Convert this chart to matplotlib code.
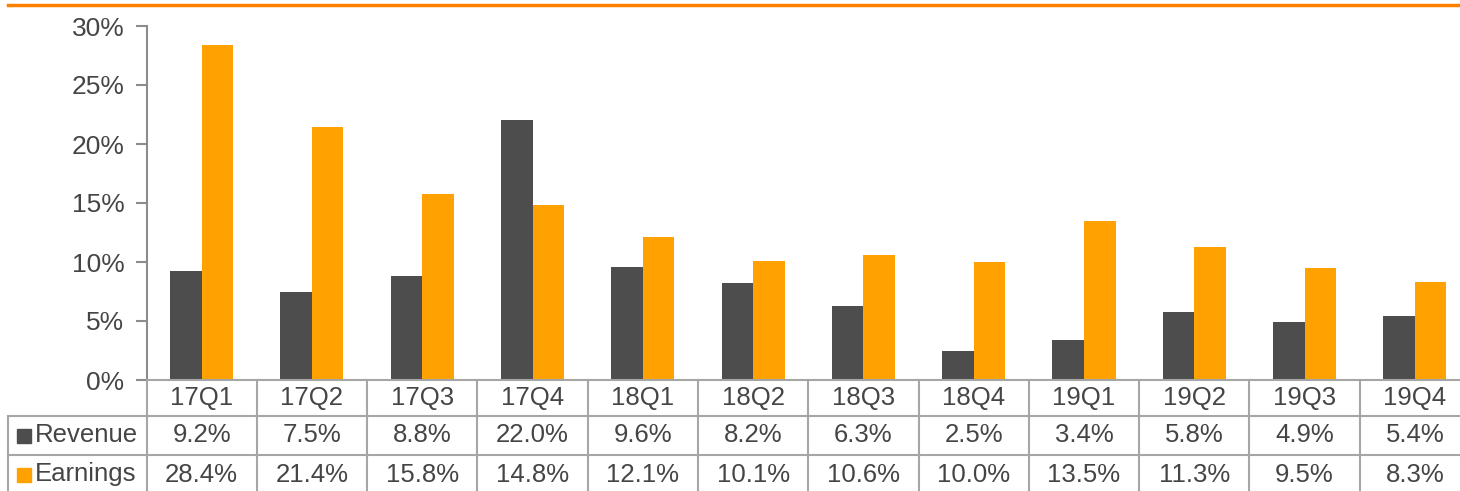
"""Quarterly revenue and earnings growth, bars with a data table underneath."""
import matplotlib

matplotlib.use("Agg")
import matplotlib.pyplot as plt  # noqa: E402
from matplotlib.lines import Line2D  # noqa: E402
from matplotlib.patches import Rectangle  # noqa: E402
from matplotlib.ticker import FuncFormatter  # noqa: E402
from matplotlib.transforms import blended_transform_factory  # noqa: E402

quarters = ["17Q1", "17Q2", "17Q3", "17Q4", "18Q1", "18Q2",
            "18Q3", "18Q4", "19Q1", "19Q2", "19Q3", "19Q4"]
revenue = [9.2, 7.5, 8.8, 22.0, 9.6, 8.2, 6.3, 2.5, 3.4, 5.8, 4.9, 5.4]
earnings = [28.4, 21.4, 15.8, 14.8, 12.1, 10.1, 10.6, 10.0, 13.5, 11.3, 9.5, 8.3]
series_names = ["Revenue", "Earnings"]

DARK = "#4d4d4d"
ORANGE = "#ffa100"
GRID = "#a6a6a6"
TEXT = "#454545"
FS = 18.5

plt.rcParams["font.family"] = ["Liberation Sans", "DejaVu Sans"]

W, H = 1460, 491
fig = plt.figure(figsize=(W / 100, H / 100), dpi=100)


def fy(px):
    # pixel row from top -> figure fraction
    return 1 - px / H


ax_left, ax_right = 146.5, 1470
ax_top, ax_bot = 26, 380
ax = fig.add_axes([ax_left / W, fy(ax_bot), (ax_right - ax_left) / W, (ax_bot - ax_top) / H])

x = list(range(len(quarters)))
bw = 0.286
ax.bar([i - bw / 2 for i in x], revenue, width=bw, color=DARK, zorder=2)
ax.bar([i + bw / 2 for i in x], earnings, width=bw, color=ORANGE, zorder=2)

ax.set_xlim(-0.5, len(quarters) - 0.5)
ax.set_ylim(0, 30)
ax.set_yticks(range(0, 31, 5))
ax.yaxis.set_major_formatter(FuncFormatter(lambda v, _: f"{v:.0f}%"))
ax.tick_params(axis="y", length=8, width=1.5, color="#8c8c8c",
               labelsize=19, labelcolor=TEXT, pad=8)
ax.tick_params(axis="x", bottom=False, labelbottom=False)
for s in ["top", "right"]:
    ax.spines[s].set_visible(False)
ax.spines["left"].set_color("#8c8c8c")
ax.spines["left"].set_linewidth(1.5)
ax.spines["bottom"].set_color(GRID)
ax.spines["bottom"].set_linewidth(1.5)

# data table under the axes: x from data coords, y in figure fraction
tr = blended_transform_factory(ax.transData, fig.transFigure)
row_lines = [380, 416, 455]
row_mid = [398, 435.5, 474.5]
bottom_px = H + 5
lw = 1.5

fig.add_artist(Line2D([8 / W, 1], [fy(416), fy(416)], color=GRID, lw=lw))
fig.add_artist(Line2D([8 / W, 1], [fy(455), fy(455)], color=GRID, lw=lw))
fig.add_artist(Line2D([8 / W, 8 / W], [fy(416), fy(bottom_px)], color=GRID, lw=lw))
for i in range(len(quarters) + 1):
    fig.add_artist(Line2D([i - 0.5, i - 0.5], [fy(row_lines[0]), fy(bottom_px)],
                          color=GRID, lw=lw, transform=tr))

for i, q in enumerate(quarters):
    fig.text(i, fy(row_mid[0]), q, transform=tr, ha="center", va="center",
             fontsize=FS, color=TEXT)
    fig.text(i, fy(row_mid[1]), f"{revenue[i]:.1f}%", transform=tr,
             ha="center", va="center", fontsize=FS, color=TEXT)
    fig.text(i, fy(row_mid[2]), f"{earnings[i]:.1f}%", transform=tr,
             ha="center", va="center", fontsize=FS, color=TEXT)

for name, col, ym in zip(series_names, [DARK, ORANGE], row_mid[1:]):
    fig.add_artist(Rectangle((17 / W, fy(ym + 7)), 14 / W, 14 / H, color=col))
    fig.text(35 / W, fy(ym), name, ha="left", va="center", fontsize=FS, color=TEXT)

# orange rule at the top of the slide
fig.add_artist(Line2D([8 / W, 1], [fy(5), fy(5)], color="#ff8000", lw=2.5))

fig.savefig("out.png", dpi=100)
